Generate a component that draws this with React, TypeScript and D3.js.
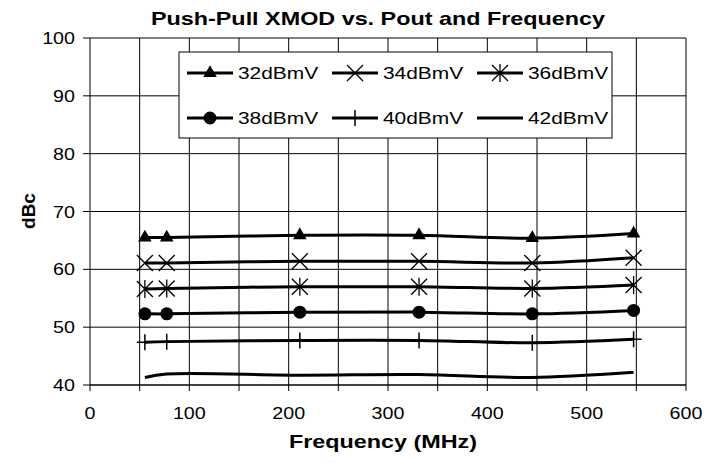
import { useRef, useEffect } from 'react';
import * as d3 from 'd3';

// carrier frequencies (MHz)
const frequencies = [55.25, 77.25, 211.25, 331.25, 445.25, 547.25];

const seriesNames = ['32dBmV', '34dBmV', '36dBmV', '38dBmV', '40dBmV', '42dBmV'];
const xmod32 = [65.5, 65.5, 65.9, 65.9, 65.4, 66.2];
const xmod34 = [61.1, 61.1, 61.4, 61.4, 61.1, 62.0];
const xmod36 = [56.6, 56.7, 57.0, 57.0, 56.7, 57.3];
const xmod38 = [52.3, 52.3, 52.6, 52.6, 52.3, 52.9];
const xmod40 = [47.4, 47.5, 47.7, 47.7, 47.3, 47.9];
const xmod42 = [41.3, 41.9, 41.7, 41.8, 41.3, 42.2];
const markerKinds = ['triangle', 'x', 'star', 'circle', 'plus', 'none'];

const xTicks = [0, 100, 200, 300, 400, 500, 600];
const xGrid = d3.range(0, 601, 50);
const yTicks = [40, 50, 60, 70, 80, 90, 100];

const W = 719;
const H = 463;
const FONT = '"Liberation Sans", Arial, sans-serif';
const SX = 1.23; // the original picture is stretched sideways

function drawMarker(g: d3.Selection<SVGGElement, unknown, null, undefined>, kind: string, x: number, y: number) {
  const s = 8;
  if (kind === 'triangle') {
    g.append('path').attr('d', d3.symbol(d3.symbolTriangle, 80)()).attr('transform', `translate(${x},${y})`).attr('fill', '#000');
  } else if (kind === 'circle') {
    g.append('circle').attr('cx', x).attr('cy', y).attr('r', 6.5).attr('fill', '#000');
  } else if (kind === 'x' || kind === 'star') {
    let d = `M${x - s},${y - s}L${x + s},${y + s}M${x - s},${y + s}L${x + s},${y - s}`;
    if (kind === 'star') d += `M${x},${y - s - 1}L${x},${y + s + 1}`;
    g.append('path').attr('d', d).attr('stroke', '#000').attr('stroke-width', 1.3).attr('fill', 'none');
  } else if (kind === 'plus') {
    const d = `M${x},${y - s}L${x},${y + s}M${x - s},${y}L${x + s},${y}`;
    g.append('path').attr('d', d).attr('stroke', '#000').attr('stroke-width', 1.5).attr('fill', 'none');
  }
}

export default function App() {
  const svgRef = useRef<SVGSVGElement>(null);

  useEffect(() => {
    if (!svgRef.current) return;
    const svg = d3.select(svgRef.current);
    svg.selectAll('*').remove();

    const x = d3.scaleLinear().domain([0, 600]).range([90, 686]);
    const y = d3.scaleLinear().domain([40, 100]).range([385, 38]);

    const stretchText = (tx: number, ty: number, str: string, size: number, anchor: string, weight = 'normal') =>
      svg.append('text')
        .attr('transform', `translate(${tx},${ty}) scale(${SX},1)`)
        .attr('text-anchor', anchor)
        .attr('font-family', FONT)
        .attr('font-size', size)
        .attr('font-weight', weight)
        .attr('fill', '#000')
        .text(str);

    svg.append('rect').attr('width', W).attr('height', H).attr('fill', '#fff');

    // gridlines
    svg.append('g').selectAll('line').data(yTicks).join('line')
      .attr('x1', x(0)).attr('x2', x(600))
      .attr('y1', (d) => y(d)).attr('y2', (d) => y(d))
      .attr('stroke', '#000').attr('stroke-width', 1);
    svg.append('g').selectAll('line').data(xGrid.filter((d) => d > 0)).join('line')
      .attr('x1', (d) => x(d)).attr('x2', (d) => x(d))
      .attr('y1', y(100)).attr('y2', y(40))
      .attr('stroke', '#000').attr('stroke-width', 1);

    // axes
    svg.append('line').attr('x1', x(0)).attr('x2', x(0)).attr('y1', y(100)).attr('y2', y(40)).attr('stroke', '#000');
    svg.append('line').attr('x1', x(0)).attr('x2', x(600)).attr('y1', y(40)).attr('y2', y(40)).attr('stroke', '#000');
    svg.append('g').selectAll('line').data(yTicks).join('line')
      .attr('x1', x(0) - 7).attr('x2', x(0))
      .attr('y1', (d) => y(d)).attr('y2', (d) => y(d))
      .attr('stroke', '#000');
    svg.append('g').selectAll('line').data(xGrid).join('line')
      .attr('x1', (d) => x(d)).attr('x2', (d) => x(d))
      .attr('y1', y(40)).attr('y2', y(40) + 6)
      .attr('stroke', '#000');

    yTicks.forEach((t) => stretchText(75, y(t) + 6, String(t), 16, 'end'));
    xTicks.forEach((t) => stretchText(x(t), 419, String(t), 16, 'middle'));

    // series
    const allSeries = [xmod32, xmod34, xmod36, xmod38, xmod40, xmod42];
    const line = d3.line<number>()
      .x((_, i) => x(frequencies[i]))
      .y((d) => y(d))
      .curve(d3.curveCatmullRom.alpha(0.5));
    const plot = svg.append('g');
    allSeries.forEach((vals, si) => {
      plot.append('path').attr('d', line(vals)).attr('fill', 'none')
        .attr('stroke', '#000').attr('stroke-width', 3);
      vals.forEach((v, i) => drawMarker(plot, markerKinds[si], x(frequencies[i]), y(v)));
    });

    // legend
    const lg = svg.append('g');
    lg.append('rect').attr('x', 179).attr('y', 52).attr('width', 433).attr('height', 86)
      .attr('fill', '#fff').attr('stroke', '#000').attr('stroke-width', 1);
    seriesNames.forEach((name, i) => {
      const lx = 187 + (i % 3) * 145;
      const ly = i < 3 ? 73 : 118;
      lg.append('line').attr('x1', lx).attr('x2', lx + 46).attr('y1', ly).attr('y2', ly)
        .attr('stroke', '#000').attr('stroke-width', 3);
      drawMarker(lg, markerKinds[i], lx + 23, ly);
      lg.append('text')
        .attr('transform', `translate(${lx + 51},${ly + 6}) scale(${SX},1)`)
        .attr('font-family', FONT).attr('font-size', 17).attr('fill', '#000')
        .text(name);
    });

    // titles
    stretchText(378, 25, 'Push-Pull XMOD vs. Pout and Frequency', 19, 'middle', 'bold');
    stretchText(383, 448, 'Frequency (MHz)', 19, 'middle', 'bold');
    svg.append('text')
      .attr('transform', `translate(35,211) rotate(-90)`)
      .attr('text-anchor', 'middle')
      .attr('font-family', FONT).attr('font-size', 19).attr('font-weight', 'bold')
      .text('dBc');
  }, []);

  return (
    <svg ref={svgRef} width={W} height={H} style={{ position: 'absolute', left: 0, top: 0 }} />
  );
}
